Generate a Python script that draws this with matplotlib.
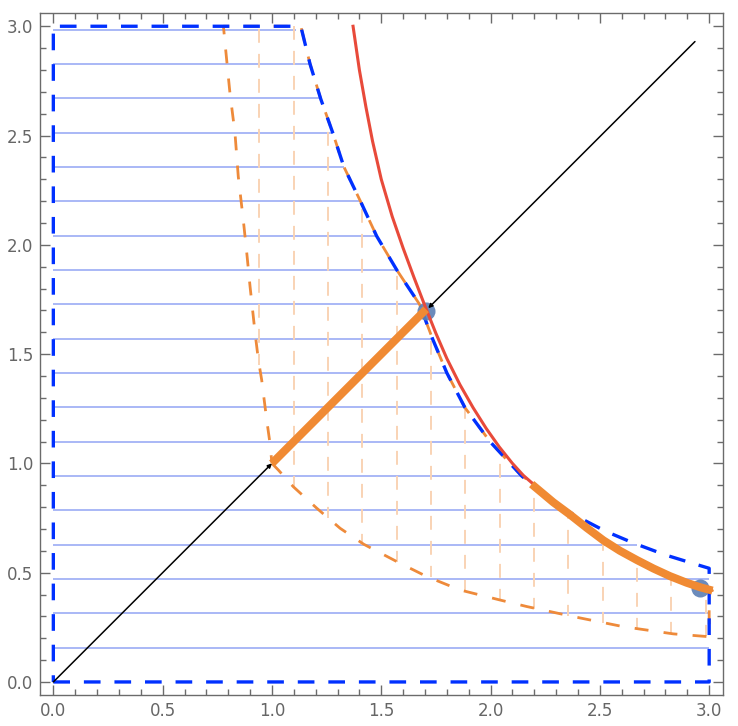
import matplotlib
matplotlib.use("Agg")
from matplotlib import pyplot as plt
from matplotlib.ticker import MultipleLocator

# ---- data ----
# light blue horizontal lines: level and right end
hline_y = [0.157, 0.314, 0.471, 0.628, 0.785, 0.942, 1.100, 1.257, 1.414, 1.571,
           1.728, 1.885, 2.042, 2.199, 2.356, 2.513, 2.670, 2.827, 2.985]
hline_x1 = [3.0, 3.0, 3.0, 2.67, 2.35, 2.143, 1.998, 1.883, 1.80, 1.735,
            1.675, 1.571, 1.479, 1.405, 1.329, 1.278, 1.223, 1.174, 1.11]

# light orange vertical lines: position, bottom, top
vline_x = [0.942, 1.100, 1.257, 1.414, 1.571, 1.728, 1.885, 2.042, 2.199, 2.356,
           2.513, 2.670, 2.827, 2.985]
vline_y0 = [1.45, 0.893, 0.75, 0.625, 0.55, 0.48, 0.418, 0.375, 0.335, 0.30,
            0.268, 0.243, 0.222, 0.208]
vline_y1 = [3.0, 3.0, 2.57, 2.18, 1.885, 1.59, 1.25, 1.05, 0.895, 0.77,
            0.655, 0.563, 0.49, 0.43]

# blue dashed boundary
blue_x = [0, 3.0, 3.0, 2.94, 2.80, 2.655, 2.525, 2.39, 2.28, 2.143, 1.998, 1.883,
          1.80, 1.735, 1.675, 1.571, 1.479, 1.405, 1.329, 1.278, 1.223, 1.174,
          1.132, 0, 0]
blue_y = [0, 0, 0.52, 0.538, 0.581, 0.635, 0.69, 0.76, 0.827, 0.942, 1.099, 1.255,
          1.414, 1.569, 1.728, 1.885, 2.040, 2.199, 2.357, 2.513, 2.668, 2.828,
          3.0, 3.0, 0]

# orange dashed boundary (lower edge, right edge, upper edge, left edge)
olow_x = [1.0, 1.029, 1.098, 1.205, 1.312, 1.42, 1.586, 1.709, 1.86, 2.043, 2.166,
          2.379, 2.607, 2.836, 3.0, 3.0]
olow_y = [1.0, 0.970, 0.893, 0.795, 0.703, 0.63, 0.543, 0.482, 0.421, 0.375, 0.345,
          0.299, 0.253, 0.22, 0.207, 0.43]
oup_x = [2.196, 2.143, 1.998, 1.883, 1.80, 1.735, 1.675, 1.571, 1.479, 1.405, 1.329,
         1.278, 1.223, 1.174, 1.132, 0.778]
oup_y = [0.909, 0.942, 1.099, 1.255, 1.414, 1.569, 1.728, 1.885, 2.040, 2.199, 2.357,
         2.513, 2.668, 2.828, 3.0, 3.0]
oleft_x = [0.778, 0.793, 0.808, 0.831, 0.846, 0.869, 0.885, 0.9, 0.923, 0.938,
           0.953, 0.976, 0.991, 1.0]
oleft_y = [3.0, 2.845, 2.693, 2.51, 2.312, 2.113, 1.961, 1.808, 1.595, 1.473,
           1.382, 1.199, 1.092, 1.0]

# red curve
red_x = [1.371, 1.40, 1.43, 1.46, 1.50, 1.55, 1.60, 1.65, 1.70, 1.75, 1.80, 1.86,
         1.92, 1.98, 2.04, 2.10, 2.15, 2.196]
red_y = [3.0, 2.80, 2.63, 2.475, 2.30, 2.13, 1.985, 1.85, 1.72, 1.595, 1.48, 1.36,
         1.255, 1.16, 1.075, 1.00, 0.945, 0.905]

# thick orange pieces
seg_x = [1.0, 1.705]
seg_y = [1.0, 1.705]
thick_x = [2.188, 2.287, 2.364, 2.440, 2.516, 2.592, 2.669, 2.745, 2.821, 2.897,
           2.96, 3.015]
thick_y = [0.905, 0.822, 0.765, 0.705, 0.648, 0.600, 0.558, 0.519, 0.484, 0.454,
           0.433, 0.418]

# points
pt_x = [1.705, 2.958]
pt_y = [1.697, 0.432]

# black arrows (start, end)
arrow_from = [(0.0, 0.0), (2.935, 2.93)]
arrow_to = [(1.0, 1.0), (1.715, 1.71)]

# ---- plotting ----
plt.rcParams['lines.scale_dashes'] = False
fig = plt.figure(figsize=(7.38, 7.26), dpi=100)
ax = fig.add_axes([0.0542, 0.0423, 0.9251, 0.9402])

ax.hlines(hline_y, 0, hline_x1, colors='#a9b8f6', lw=1.4, zorder=1)
ax.vlines(vline_x, vline_y0, vline_y1, colors='#f9d3b4', lw=1.4,
          linestyles=(2, (10, 8)), zorder=1)

ax.plot(olow_x + thick_x[::-1] + oup_x + oleft_x,
        olow_y + thick_y[::-1] + oup_y + oleft_y,
        color='#ee8a3a', lw=2.0, dashes=(10, 11), zorder=2)
ax.plot(blue_x, blue_y, color='#0030ff', lw=2.4, dashes=(12, 10), zorder=3)

ax.plot(pt_x, pt_y, 'o', ms=13, color='#5b7fb4', alpha=0.9, mec='none', zorder=4)
ax.plot(red_x, red_y, color='#e84a3a', lw=2.2, zorder=5)
ax.plot(seg_x, seg_y, color='#f08a33', lw=5.8, solid_capstyle='butt', zorder=6)
ax.plot(thick_x, thick_y, color='#f08a33', lw=5.8, solid_capstyle='butt', zorder=6)

for a, b in zip(arrow_from, arrow_to):
    ax.annotate('', xy=b, xytext=a, zorder=7,
                arrowprops=dict(arrowstyle='-|>', color='black', lw=1.1,
                                mutation_scale=6, shrinkA=0, shrinkB=0))

ax.set_xlim(-0.061, 3.062)
ax.set_ylim(-0.061, 3.062)
ax.xaxis.set_major_locator(MultipleLocator(0.5))
ax.yaxis.set_major_locator(MultipleLocator(0.5))
ax.xaxis.set_minor_locator(MultipleLocator(0.1))
ax.yaxis.set_minor_locator(MultipleLocator(0.1))
ax.xaxis.set_major_formatter(lambda v, p: f"{v:.1f}")
ax.yaxis.set_major_formatter(lambda v, p: f"{v:.1f}")
ax.tick_params(which='both', direction='in', top=True, right=True,
               color='#6b6b6b', width=1.0)
ax.tick_params(which='major', length=7, labelsize=12, labelcolor='#666666', pad=5)
ax.tick_params(which='minor', length=4)
for s in ax.spines.values():
    s.set_color('#6b6b6b')
    s.set_linewidth(1.0)

fig.savefig('out.png', dpi=100)
